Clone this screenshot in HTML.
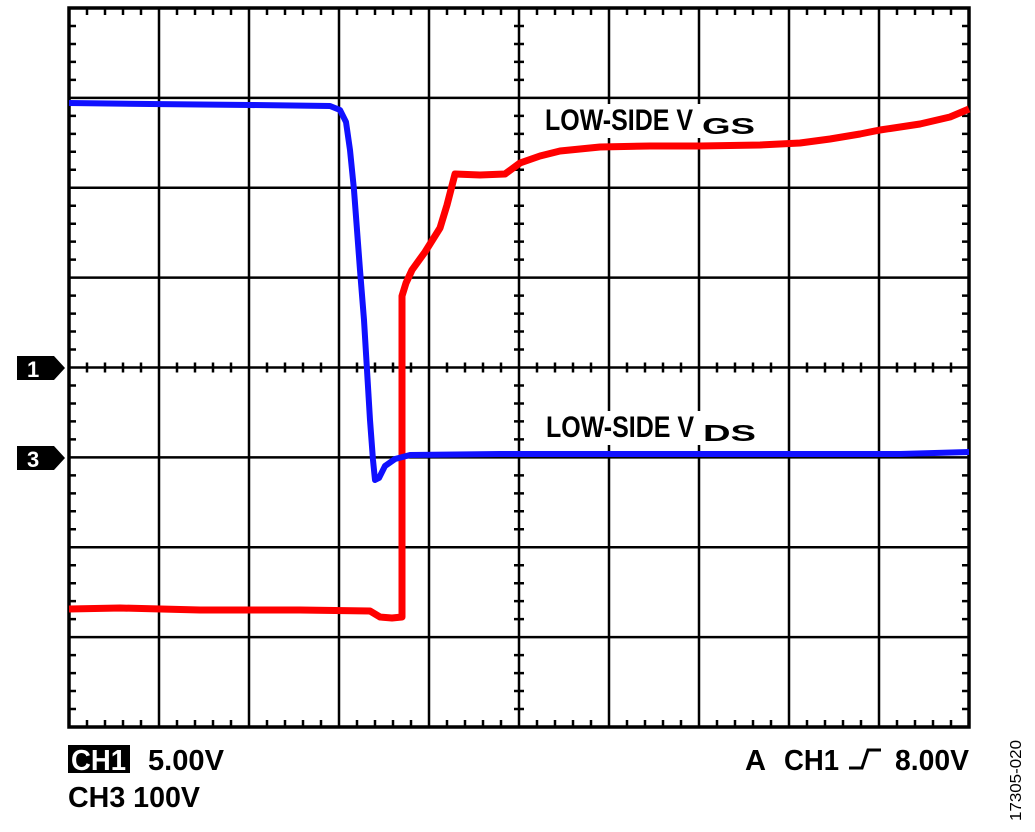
<!DOCTYPE html>
<html><head><style>
body{margin:0;background:#fff}
svg text{font-family:"Liberation Sans",sans-serif;font-weight:bold;fill:#000}
</style></head><body>
<svg id="s" width="1035" height="827" xmlns="http://www.w3.org/2000/svg">
<g id="grid" stroke="#000" stroke-width="2.5" fill="none"></g>
<polyline fill="none" stroke="#ff0000" stroke-width="7" stroke-linejoin="round" points="69,609 120,608 200,610 300,610 370,611 380,617 392,618 402,617 402,296 406,283 412,270 425,252 440,228 447,205 455,174 480,175 505,174 520,163 540,156 560,151 600,147 650,146 700,146 760,145 800,143 830,139 860,134 880,130 920,124 950,117 969,109"/>
<polyline fill="none" stroke="#1010ff" stroke-width="6" stroke-linejoin="round" points="69,103 150,104 250,105 330,106 340,110 346,122 350,150 354,190 357,230 360,270 364,320 367,370 370,420 373,460 375,480 379,478 385,466 395,459 410,455 500,454 600,454 700,454 800,454 900,454 969,452"/>
<rect x="541" y="104" width="218" height="34" fill="#fff"/>
<text x="545" y="130" font-size="30" textLength="148" lengthAdjust="spacingAndGlyphs">LOW-SIDE V</text>
<text x="702" y="134" font-size="23" textLength="53" lengthAdjust="spacingAndGlyphs">GS</text>
<rect x="541" y="411" width="218" height="34" fill="#fff"/>
<text x="546" y="437" font-size="30" textLength="148" lengthAdjust="spacingAndGlyphs">LOW-SIDE V</text>
<text x="703" y="441" font-size="23" textLength="53" lengthAdjust="spacingAndGlyphs">DS</text>
<path d="M17,356 H54 L65,368 L54,380 H17Z" fill="#000"/>
<text x="27" y="377" font-size="22" style="fill:#fff">1</text>
<path d="M17,446 H54 L65,458 L54,470 H17Z" fill="#000"/>
<text x="27" y="467" font-size="22" style="fill:#fff">3</text>
<rect x="68" y="745" width="62" height="28" fill="#000"/>
<text x="71" y="770" font-size="29" style="fill:#fff" textLength="55" lengthAdjust="spacingAndGlyphs">CH1</text>
<text x="148" y="770" font-size="29" textLength="76" lengthAdjust="spacingAndGlyphs">5.00V</text>
<text x="68" y="807" font-size="29" textLength="132" lengthAdjust="spacingAndGlyphs">CH3 100V</text>
<text x="745" y="770" font-size="29" textLength="21" lengthAdjust="spacingAndGlyphs">A</text>
<text x="784" y="770" font-size="29" textLength="55" lengthAdjust="spacingAndGlyphs">CH1</text>
<path d="M849,768 H862 L868,750 H881" stroke="#000" stroke-width="3" fill="none"/>
<text x="895" y="770" font-size="29" textLength="74" lengthAdjust="spacingAndGlyphs">8.00V</text>
<text transform="translate(1021,821) rotate(-90)" font-size="16" style="font-weight:normal" textLength="81" lengthAdjust="spacingAndGlyphs">17305-020</text>
</svg>
<script>
var g=document.getElementById('grid'),d='';
var L=69,R=969,T=8,B=727,dx=90,dy=(B-T)/8;
for(var i=1;i<10;i++){var x=L+i*dx;d+='M'+x+','+T+'V'+B;}
for(var j=1;j<8;j++){var y=T+j*dy;d+='M'+L+','+y+'H'+R;}
var cy=T+4*dy,cx=L+5*dx;
for(var k=0;k<=50;k++){var x=L+k*18;if(k%5==0)continue;d+='M'+x+','+T+'v7M'+x+','+B+'v-7M'+x+','+(cy-5)+'v10';}
for(var k=0;k<=40;k++){var y=T+k*dy/5;if(k%5==0)continue;d+='M'+L+','+y+'h7M'+R+','+y+'h-7M'+(cx-5)+','+y+'h10';}
var p=document.createElementNS('http://www.w3.org/2000/svg','path');p.setAttribute('d',d);g.appendChild(p);
var r=document.createElementNS('http://www.w3.org/2000/svg','rect');
r.setAttribute('x',L);r.setAttribute('y',T);r.setAttribute('width',R-L);r.setAttribute('height',B-T);r.setAttribute('stroke-width','3.5');g.appendChild(r);
</script>
</body></html>
